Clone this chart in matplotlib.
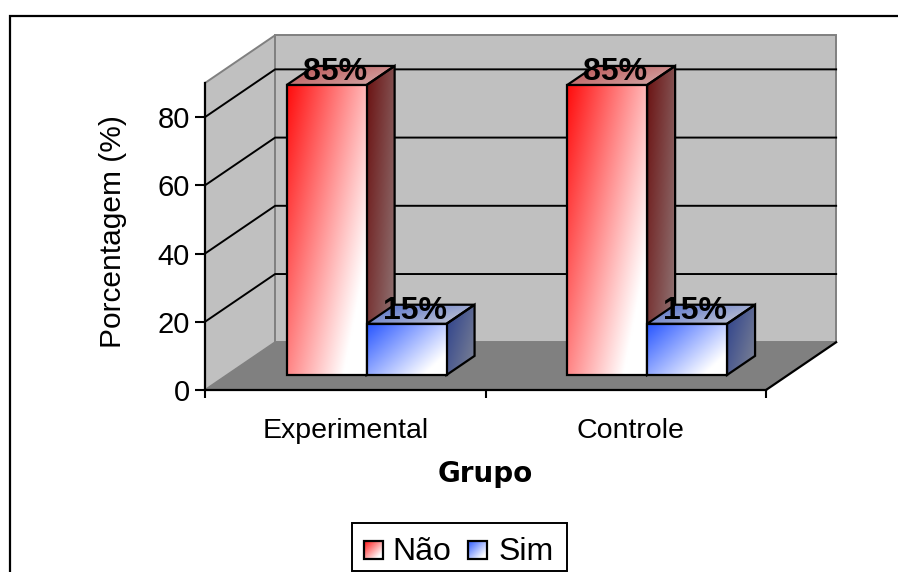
"""
Bar chart in fake 3D: Nao / Sim percentages per group.
Depth is drawn by hand as an offset in data units.
"""

import matplotlib
matplotlib.use("Agg")
import matplotlib.pyplot as plt
import numpy as np
from matplotlib.patches import Polygon, Rectangle

categories = ["Experimental", "Controle"]
nao_values = [85, 85]
sim_values = [15, 15]
nao_labels = ["85%", "85%"]
sim_labels = ["15%", "15%"]
y_ticks = [0, 20, 40, 60, 80]

W, H = 898, 572
Y_MAX = 90

# depth of the whole plot box and of the bars, in data units
BOX_DX, BOX_DY = 0.25, 14.0
FRONT_DY = 4.4
BAR_DX, BAR_DY = 0.10, 5.6
BAR_W = 0.285
BAR_START = 0.291


def gradient_face(ax, pts, start, end, zorder, wx=0.7, wy=0.5):
    # diagonal gradient clipped to the face outline
    pts = np.array(pts)
    x0, x1 = pts[:, 0].min(), pts[:, 0].max()
    y0, y1 = pts[:, 1].min(), pts[:, 1].max()
    xx, yy = np.meshgrid(np.linspace(0, 1, 64), np.linspace(0, 1, 64))
    t = np.clip(wx * xx + wy * yy, 0, 1)[..., None]
    img = np.array(start) * (1 - t) + np.array(end) * t
    face = Polygon(pts, closed=True, fc="none", ec="black", lw=1.6, zorder=zorder + 0.1,
                   clip_on=False, joinstyle="miter")
    ax.add_patch(face)
    im = ax.imshow(img, extent=(x0, x1, y0, y1), aspect="auto", zorder=zorder,
                   interpolation="bilinear")
    im.set_clip_path(face)
    # faces stick out above the axes box, so clip to the figure instead
    im.set_clip_box(ax.figure.bbox)


def draw_bar(ax, x, value, colors, zorder):
    xl, xr = x, x + BAR_W
    y0, y1 = FRONT_DY, value + FRONT_DY
    dx, dy = BAR_DX, BAR_DY
    gradient_face(ax, [(xr, y0), (xr + dx, y0 + dy), (xr + dx, y1 + dy), (xr, y1)],
                  colors["side0"], colors["side1"], zorder)
    gradient_face(ax, [(xl, y1), (xr, y1), (xr + dx, y1 + dy), (xl + dx, y1 + dy)],
                  colors["top0"], colors["top1"], zorder)
    gradient_face(ax, [(xl, y0), (xr, y0), (xr, y1), (xl, y1)],
                  colors["front0"], colors["front1"], zorder + 0.2)


red = {"front0": (1, 0.05, 0.05), "front1": (1, 1, 1),
       "side0": (0.42, 0.07, 0.07), "side1": (0.55, 0.42, 0.42),
       "top0": (0.72, 0.30, 0.30), "top1": (0.82, 0.62, 0.62)}
blue = {"front0": (0.15, 0.33, 1), "front1": (1, 1, 1),
        "side0": (0.17, 0.25, 0.55), "side1": (0.45, 0.48, 0.58),
        "top0": (0.30, 0.42, 0.80), "top1": (0.72, 0.74, 0.82)}

plt.rcParams["font.family"] = ["Liberation Sans", "DejaVu Sans"]

fig = plt.figure(figsize=(W / 100, H / 100), dpi=100)
fig.patch.set_facecolor("white")

# outer chart frame, runs off the bottom and right of the picture
fig.add_artist(Rectangle((10 / W, -0.02), 1.0, (H - 16) / H + 0.02,
                         transform=fig.transFigure, fc="none", ec="black", lw=1.6, zorder=-1))

ax = fig.add_axes([205 / W, 1 - 390 / H, 561 / W, 307 / H])
ax.set_xlim(0, len(categories))
ax.set_ylim(0, Y_MAX)
ax.patch.set_alpha(0)

x_end = len(categories)
wall_grey = "#c0c0c0"
edge_grey = "#808080"

# side wall, back wall, floor
ax.add_patch(Polygon([(0, 0), (BOX_DX, BOX_DY), (BOX_DX, Y_MAX + BOX_DY), (0, Y_MAX)],
                     fc=wall_grey, ec=edge_grey, lw=1.4, clip_on=False, zorder=1))
ax.add_patch(Rectangle((BOX_DX, BOX_DY), x_end, Y_MAX, fc=wall_grey, ec=edge_grey, lw=1.4,
                       clip_on=False, zorder=1))
ax.add_patch(Polygon([(0, 0), (x_end, 0), (x_end + BOX_DX, BOX_DY), (BOX_DX, BOX_DY)],
                     fc=edge_grey, ec="none", clip_on=False, zorder=1.5))
ax.plot([x_end, x_end + BOX_DX], [0, BOX_DY], color="black", lw=1.6, clip_on=False, zorder=2)

# gridlines wrap from the side wall on to the back wall
for t in y_ticks[1:]:
    ax.plot([0, BOX_DX, x_end + BOX_DX], [t, t + BOX_DY, t + BOX_DY], color="black", lw=1.4,
            clip_on=False, zorder=2)

for i in range(len(categories)):
    draw_bar(ax, i + BAR_START, nao_values[i], red, 3)
    draw_bar(ax, i + BAR_START + BAR_W, sim_values[i], blue, 4)

for i in range(len(categories)):
    for offset, val, lab in [(0, nao_values[i], nao_labels[i]), (BAR_W, sim_values[i], sim_labels[i])]:
        ax.text(i + BAR_START + offset + BAR_W / 2 + 0.03, val + FRONT_DY + 3.9, lab,
                ha="center", va="center", fontsize=23, fontweight="bold", color="black",
                zorder=6)

ax.spines["top"].set_visible(False)
ax.spines["right"].set_visible(False)
for s in ("left", "bottom"):
    ax.spines[s].set_linewidth(1.6)
    ax.spines[s].set_zorder(2.5)

ax.set_yticks(y_ticks)
ax.set_xticks(range(len(categories) + 1))
ax.set_xticklabels([])
ax.set_xticks([0.5, 1.518], labels=categories, minor=True)
ax.tick_params(axis="y", labelsize=21, length=7, width=1.5, pad=4)
ax.tick_params(axis="x", which="major", length=6, width=1.5)
ax.tick_params(axis="x", which="minor", length=0, labelsize=20.5, pad=20)
ax.set_ylabel("Porcentagem (%)", fontsize=21.5, va="center")
ax.yaxis.set_label_coords(-0.164, 0.515)
ax.set_xlabel("Grupo", fontsize=20, fontweight="bold", family="DejaVu Sans", va="center")
ax.xaxis.set_label_coords(0.499, -0.275)

# legend box, built by hand so the swatches can carry the gradient look
fig.add_artist(Rectangle((352 / W, 0.7 / H), 215 / W, (H - 524) / H,
                         transform=fig.transFigure, fc="white", ec="black", lw=1.4, zorder=-0.5))
lax = fig.add_axes([352 / W, 0, 215 / W, (H - 524) / H])
lax.set_xlim(0, 1)
lax.set_ylim(0, 1)
lax.axis("off")
for x0, name, cols, tx in [(0.056, "Não", red, 0.19), (0.54, "Sim", blue, 0.68)]:
    gradient_face(lax, [(x0, 0.27), (x0 + 0.088, 0.27), (x0 + 0.088, 0.646), (x0, 0.646)],
                  cols["front0"], cols["front1"], 3, wx=0.6, wy=0.6)
    lax.text(tx, 0.417, name, fontsize=23, va="center", ha="left", zorder=5)
lax.set_xlim(0, 1)
lax.set_ylim(0, 1)

ax.set_xlim(0, len(categories))
ax.set_ylim(0, Y_MAX)

fig.savefig("out.png", dpi=100)
